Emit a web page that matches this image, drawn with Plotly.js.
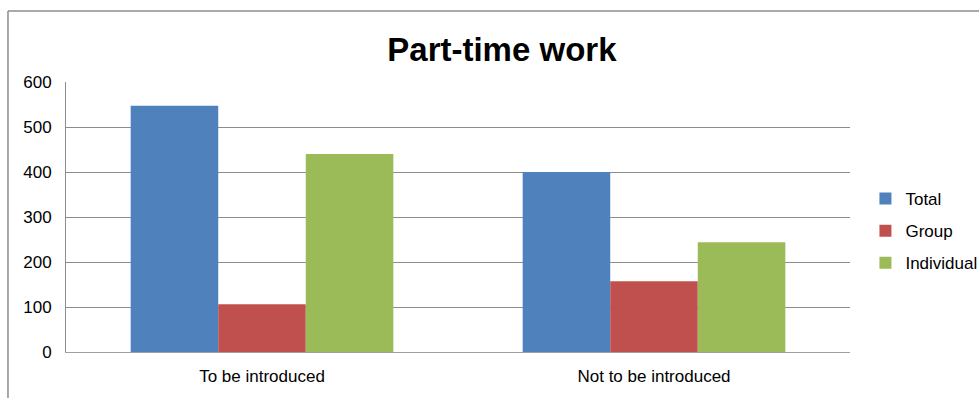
<!DOCTYPE html>
<html>
<head>
<meta charset="utf-8">
<script src="https://cdn.plot.ly/plotly-3.0.1.min.js"></script>
<style>
html,body{margin:0;padding:0;background:#fff;}
#chart{width:979px;height:398px;}
</style>
</head>
<body>
<div id="chart"></div>
<script>
const categories = ["To be introduced", "Not to be introduced"];
const seriesNames = ["Total", "Group", "Individual"];
const totalValues = [547, 400];
const groupValues = [106, 157];
const individualValues = [440, 244];
const yTicks = [0, 100, 200, 300, 400, 500, 600];

const colors = ["#4F81BD", "#C0504D", "#9BBB59"];
const values = [totalValues, groupValues, individualValues];

const data = seriesNames.map((name, i) => ({
  type: "bar",
  name: name,
  x: categories,
  y: values[i],
  marker: {color: colors[i]},
  legendgroup: name,
  hoverinfo: "x+y+name"
}));

const layout = {
  width: 979,
  height: 398,
  margin: {l: 66, r: 129, t: 82, b: 46, autoexpand: false},
  paper_bgcolor: "#ffffff",
  plot_bgcolor: "#ffffff",
  font: {family: "Liberation Sans, Arial, sans-serif", color: "#000000", size: 17},
  title: {
    text: "<b>Part-time work</b>",
    font: {family: "Liberation Sans, Arial, sans-serif", size: 33, color: "#000000"},
    xref: "paper", x: 0.556, xanchor: "center",
    yref: "container", y: 0.877, yanchor: "middle"
  },
  barmode: "group",
  bargap: 0.33,
  bargroupgap: 0,
  xaxis: {
    showgrid: false,
    showline: true,
    linecolor: "#A0A0A0",
    linewidth: 1,
    ticks: "",
    tickfont: {size: 17},
    ticklabelstandoff: 9,
    zeroline: false
  },
  yaxis: {
    range: [0, 600],
    tickvals: yTicks,
    ticktext: yTicks.map(String),
    showgrid: true,
    gridcolor: "#8C8C8C",
    gridwidth: 1,
    showline: true,
    linecolor: "#8C8C8C",
    linewidth: 1,
    ticks: "",
    tickfont: {size: 17},
    ticklabelstandoff: 10,
    zeroline: false
  },
  legend: {
    xref: "container", x: 0.884, xanchor: "left",
    y: 0.448, yanchor: "middle",
    font: {size: 17},
    tracegroupgap: 7,
    itemwidth: 30,
    bgcolor: "rgba(0,0,0,0)"
  },
  shapes: [
    {type: "line", xref: "paper", yref: "paper", x0: -0.074, x1: 1.3, y0: 1.263, y1: 1.263,
     line: {color: "#8C8C8C", width: 1.5}},
    {type: "line", xref: "paper", yref: "paper", x0: -0.074, x1: -0.074, y0: 1.263, y1: -0.2,
     line: {color: "#8C8C8C", width: 1.5}}
  ]
};

Plotly.newPlot("chart", data, layout, {displayModeBar: false, staticPlot: true});
</script>
</body>
</html>
